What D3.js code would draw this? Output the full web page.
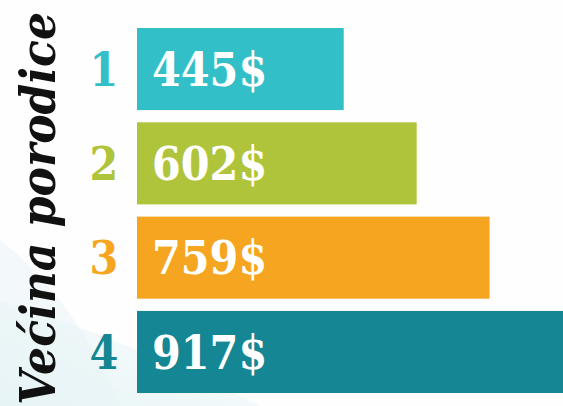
<!DOCTYPE html>
<html><head><meta charset="utf-8">
<script src="https://cdn.jsdelivr.net/npm/d3@7"></script>
<style>html,body{margin:0;padding:0;background:#fefefe;overflow:hidden}</style>
</head><body>
<svg id="c" width="563" height="406"></svg>
<script>
const categories = ["1", "2", "3", "4"];
const values = [445, 602, 759, 917];
const valueLabels = ["445$", "602$", "759$", "917$"];
const colors = ["#33bfc7", "#afc43a", "#f6a520", "#158693"];
const title = "Većina porodice";

const W = 563, H = 406;
const svg = d3.select("#c");

// faint background swoosh
const defs = svg.append("defs");
const g1 = defs.append("linearGradient").attr("id","bg").attr("x1","0").attr("y1","1").attr("x2","1").attr("y2","0");
g1.append("stop").attr("offset","0").attr("stop-color","#dcf0f3");
g1.append("stop").attr("offset","1").attr("stop-color","#fefefe");
svg.append("rect").attr("width",W).attr("height",H).attr("fill","#fefefe");
svg.append("path").attr("d","M0,300 C60,320 150,350 260,406 L0,406 Z").attr("fill","url(#bg)").attr("opacity",0.7);
svg.append("path").attr("d","M0,240 C40,270 90,330 120,406 L0,406 Z").attr("fill","#e8f4f6").attr("opacity",0.5);

const barX0 = 137;
const x = d3.scaleLinear().domain([0, 917]).range([0, 426]);
const y = d3.scaleBand().domain(categories).range([28, 393]).paddingInner(0.13).paddingOuter(0);

const rows = svg.append("g").selectAll("g").data(categories).join("g");

rows.append("rect")
  .attr("x", barX0)
  .attr("y", d => y(d))
  .attr("width", (d,i) => x(values[i]))
  .attr("height", y.bandwidth())
  .attr("fill", (d,i) => colors[i]);

rows.append("text")
  .attr("x", 104)
  .attr("y", d => y(d) + y.bandwidth()/2)
  .attr("dy", "0.36em")
  .attr("text-anchor", "middle")
  .attr("font-family", "'DejaVu Serif Condensed', 'DejaVu Serif', serif")
  .attr("font-stretch", "condensed")
  .attr("font-weight", "bold")
  .attr("font-size", 46)
  .attr("fill", (d,i) => colors[i])
  .text(d => d);

rows.append("text")
  .attr("x", barX0 + 15)
  .attr("y", d => y(d) + y.bandwidth()/2)
  .attr("dy", "0.36em")
  .attr("font-family", "'DejaVu Serif Condensed', 'DejaVu Serif', serif")
  .attr("font-stretch", "condensed")
  .attr("font-weight", "bold")
  .attr("font-size", 46)
  .attr("fill", "#ffffff")
  .text((d,i) => valueLabels[i]);

svg.append("text")
  .attr("transform", "translate(55,12) rotate(-90)")
  .attr("text-anchor", "end")
  .attr("font-family", "'DejaVu Serif Condensed', 'DejaVu Serif', serif")
  .attr("font-stretch", "condensed")
  .attr("font-weight", "bold")
  .attr("font-style", "italic")
  .attr("font-size", 49)
  .attr("fill", "#111111")
  .text(title);
</script>
</body></html>
